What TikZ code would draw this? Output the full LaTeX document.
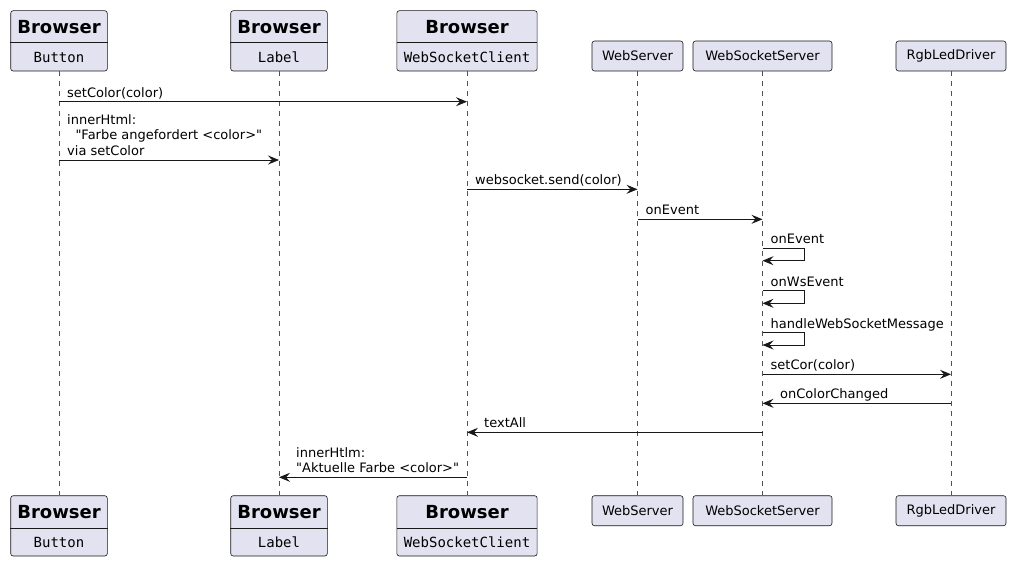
\documentclass[tikz,border=0pt]{standalone}
\usepackage{fontspec}
\setmainfont{DejaVu Sans}[Ligatures=TeXOff]
\setmonofont{DejaVu Sans Mono}
\usetikzlibrary{arrows.meta}
\definecolor{pfill}{HTML}{E2E2F0}
\definecolor{pline}{HTML}{181818}
\begin{document}
\begin{tikzpicture}[x=1pt,y=-1pt,
 pbox/.style={draw=pline, fill=pfill, rounded corners=2.5pt, line width=0.6pt, inner sep=0},
 ttl/.style={font=\fontsize{18}{21}\selectfont\bfseries, inner sep=0},
 mono/.style={font=\fontsize{14}{16}\selectfont\ttfamily, inner sep=0},
 plain/.style={font=\fontsize{13}{15}\selectfont, inner sep=0},
 divline/.style={draw=pline, line width=0.6pt},
 life/.style={draw=pline!75, line width=0.45pt, dash pattern=on 5pt off 5pt},
 msg/.style={draw=pline, line width=0.8pt, -{Stealth[length=11pt,width=9pt,inset=4pt]}},
 selfmsg/.style={draw=pline, line width=0.8pt, -{Stealth[length=11pt,width=9pt,inset=4pt]}},
 lbl/.style={font=\fontsize{13}{15.2}\selectfont, inner sep=0, anchor=base west},
 mlbl/.style={font=\fontsize{13}{15.2}\selectfont, inner sep=0, anchor=south west, align=left},
]
\useasboundingbox (0,0) rectangle (1016,567);

% ---------- top participants ----------
\node[pbox, minimum width=96.6pt, minimum height=60.3pt] (btnT) at (59,40.85) {};
\node[pbox, minimum width=96.6pt, minimum height=60.3pt] (lblT) at (279,40.85) {};
\node[pbox, minimum width=140.3pt, minimum height=60.3pt] (wscT) at (467,40.85) {};
\draw[divline] (btnT.west |- 0,42.3) -- (btnT.east |- 0,42.3);
\draw[divline] (lblT.west |- 0,42.3) -- (lblT.east |- 0,42.3);
\draw[divline] (wscT.west |- 0,42.3) -- (wscT.east |- 0,42.3);
\node[ttl] (btnTa) at (59,26.8) {Browser};
\node[mono] (btnTb) at (59,57) {Button};
\node[ttl] (lblTa) at (279,26.8) {Browser};
\node[mono] (lblTb) at (279,57) {Label};
\node[ttl] (wscTa) at (467,26.8) {Browser};
\node[mono] (wscTb) at (467,57) {WebSocketClient};

\node[pbox, plain, minimum width=91pt, minimum height=30pt] (wsT) at (637.5,56) {WebServer};
\node[pbox, plain, minimum width=139pt, minimum height=30pt] (wssT) at (762.5,56) {WebSocketServer};
\node[pbox, plain, minimum width=110pt, minimum height=30pt] (rgbT) at (951,56) {RgbLedDriver};

% ---------- bottom participants ----------
\node[pbox, minimum width=96.6pt, minimum height=60.3pt] (btnB) at (59,525.85) {};
\node[pbox, minimum width=96.6pt, minimum height=60.3pt] (lblB) at (279,525.85) {};
\node[pbox, minimum width=140.3pt, minimum height=60.3pt] (wscB) at (467,525.85) {};
\draw[divline] (btnB.west |- 0,528.3) -- (btnB.east |- 0,528.3);
\draw[divline] (lblB.west |- 0,528.3) -- (lblB.east |- 0,528.3);
\draw[divline] (wscB.west |- 0,528.3) -- (wscB.east |- 0,528.3);
\node[ttl] (btnBa) at (59,511.8) {Browser};
\node[mono] (btnBb) at (59,542.5) {Button};
\node[ttl] (lblBa) at (279,511.8) {Browser};
\node[mono] (lblBb) at (279,542.5) {Label};
\node[ttl] (wscBa) at (467,511.8) {Browser};
\node[mono] (wscBb) at (467,542.5) {WebSocketClient};

\node[pbox, plain, minimum width=91pt, minimum height=30pt] (wsB) at (637.5,510.7) {WebServer};
\node[pbox, plain, minimum width=139pt, minimum height=30pt] (wssB) at (762.5,510.7) {WebSocketServer};
\node[pbox, plain, minimum width=110pt, minimum height=30pt] (rgbB) at (951,510.7) {RgbLedDriver};

% ---------- lifelines ----------
\draw[life] (btnT.south) -- (btnB.north);
\draw[life] (lblT.south) -- (lblB.north);
\draw[life] (wscT.south) -- (wscB.north);
\draw[life] (wsT.south) -- (wsB.north);
\draw[life] (wssT.south) -- (wssB.north);
\draw[life] (rgbT.south) -- (rgbB.north);

% ---------- messages ----------
\coordinate (m1s) at (btnT.south |- 0,101.7);
\coordinate (m1e) at (wscT.south |- 0,101.7);
\draw[msg] (m1s) -- (m1e);
\node[lbl] (m1l) at (67,97.2) {setColor(color)};

\coordinate (m2s) at (btnT.south |- 0,160);
\coordinate (m2e) at (lblT.south |- 0,160);
\draw[msg] (m2s) -- (m2e);
\node[mlbl] (m2l) at (67,155.5) {innerHtml:\\\hspace*{8.3pt}"Farbe angefordert <color>"\\via setColor};

\coordinate (m3s) at (wscT.south |- 0,189.3);
\coordinate (m3e) at (wsT.south |- 0,189.3);
\draw[msg] (m3s) -- (m3e);
\node[lbl] (m3l) at (475,184.8) {websocket.send(color)};

\coordinate (m4s) at (wsT.south |- 0,219.3);
\coordinate (m4e) at (wssT.south |- 0,219.3);
\draw[msg] (m4s) -- (m4e);
\node[lbl] (m4l) at (645.5,214.8) {onEvent};

\coordinate (m5s) at (wssT.south |- 0,248.3);
\coordinate (m5e) at (wssT.south |- 0,260.7);
\draw[selfmsg] (m5s) -- ++(42,0) |- (m5e);
\node[lbl] (m5l) at (770.5,243.8) {onEvent};

\coordinate (m6s) at (wssT.south |- 0,290.7);
\coordinate (m6e) at (wssT.south |- 0,303.3);
\draw[selfmsg] (m6s) -- ++(42,0) |- (m6e);
\node[lbl] (m6l) at (770.5,286.2) {onWsEvent};

\coordinate (m7s) at (wssT.south |- 0,332.7);
\coordinate (m7e) at (wssT.south |- 0,345);
\draw[selfmsg] (m7s) -- ++(42,0) |- (m7e);
\node[lbl] (m7l) at (770.5,328.2) {handleWebSocketMessage};

\coordinate (m8s) at (wssT.south |- 0,374.3);
\coordinate (m8e) at (rgbT.south |- 0,374.3);
\draw[msg] (m8s) -- (m8e);
\node[lbl] (m8l) at (770.5,369.8) {setCor(color)};

\coordinate (m9s) at (rgbT.south |- 0,403.3);
\coordinate (m9e) at (wssT.south |- 0,403.3);
\draw[msg] (m9s) -- (m9e);
\node[lbl] (m9l) at (780,398.8) {onColorChanged};

\coordinate (m10s) at (wssT.south |- 0,432.3);
\coordinate (m10e) at (wscT.south |- 0,432.3);
\draw[msg] (m10s) -- (m10e);
\node[lbl] (m10l) at (484,427.8) {textAll};

\coordinate (m11s) at (wscT.south |- 0,477.3);
\coordinate (m11e) at (lblT.south |- 0,477.3);
\draw[msg] (m11s) -- (m11e);
\node[mlbl] (m11l) at (296,472.8) {innerHtlm:\\"Aktuelle Farbe <color>"};
\end{tikzpicture}
\end{document}
